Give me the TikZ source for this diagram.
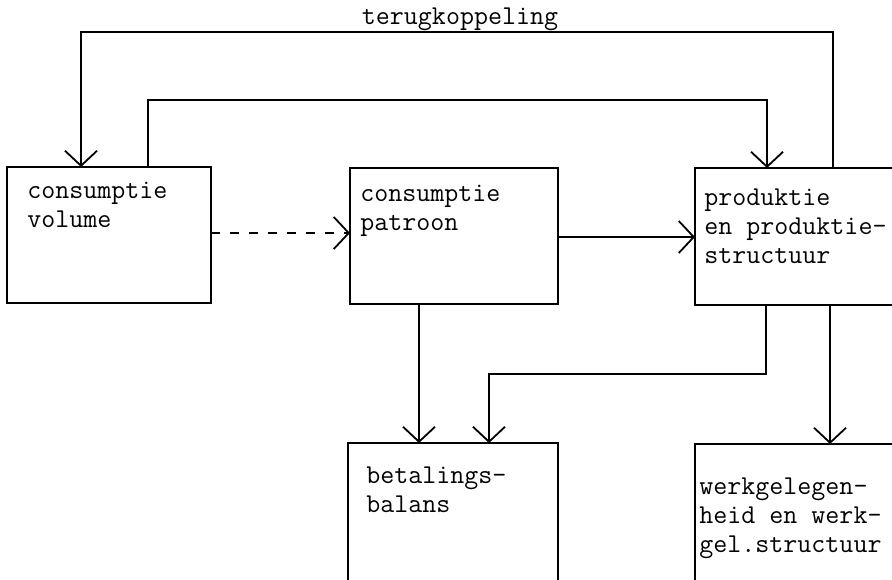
\documentclass[tikz,border=0pt]{standalone}
\usepackage{fontspec}
\usetikzlibrary{arrows.meta,positioning,calc}

\begin{document}
\begin{tikzpicture}[x=0.5pt,y=-0.5pt,
        blok/.style={draw, line width=1.1pt, inner sep=0pt, outer sep=0pt},
        tekst/.style={font=\ttfamily\fontsize{13.6}{14.5}\selectfont\addfontfeatures{FakeBold=1.2}, align=left, inner sep=0pt, anchor=base west},
        pijl/.style={line width=0.9pt, -{Straight Barb[length=7.5pt,width=16pt]}}]
        \clip (0,0) rectangle (892,579);

        % Blokken
        \node[blok, minimum width=102pt, minimum height=68pt] (volume) at (109,235) {};
        \node[blok, minimum width=104pt, minimum height=68pt] (patroon) at (454,236) {};
        \node[blok, minimum width=102.5pt, minimum height=68.5pt] (produktie) at (797.5,236.5) {};
        \node[blok, minimum width=105pt, minimum height=78.5pt] (balans) at (453,521.5) {};
        \node[blok, minimum width=102.5pt, minimum height=78pt] (werk) at (797.5,522) {};

        % Teksten (base = laatste regel)
        \node[tekst] (tvolume) at ([shift={(20,60)}]volume.north west) {consumptie\\volume};
        \node[tekst] (tpatroon) at ([shift={(10,62)}]patroon.north west) {consumptie\\patroon};
        \node[tekst] (tproduktie) at ([shift={(9,95)}]produktie.north west) {produktie\\en produktie-\\structuur};
        \node[tekst] (tbalans) at ([shift={(18,69)}]balans.north west) {betalings-\\balans};
        \node[tekst] (twerk) at ([shift={(4,108)}]werk.north west) {werkgelegen-\\heid en werk-\\gel.structuur};
        \node[tekst, anchor=base] (terug) at (460,24) {terugkoppeling};

        % Verbindingen
        \draw[pijl] (produktie.north -| 833,0) |- (81,32) -- (volume.north -| 81,0);
        \draw[pijl] (volume.north -| 148,0) |- (767,100) -- (produktie.north -| 767,0);
        \draw[pijl, dash pattern=on 4.5pt off 5pt] (volume.east |- 0,233) -- (patroon.west |- 0,233);
        \draw[pijl] (patroon.east |- 0,237) -- (produktie.west |- 0,237);
        \draw[pijl] (patroon.south -| 419,0) -- (balans.north -| 419,0);
        \draw[pijl] (produktie.south -| 766,0) |- (489,374) -- (balans.north -| 489,0);
        \draw[pijl] (produktie.south -| 830,0) -- (werk.north -| 830,0);
    \end{tikzpicture}
\end{document}
